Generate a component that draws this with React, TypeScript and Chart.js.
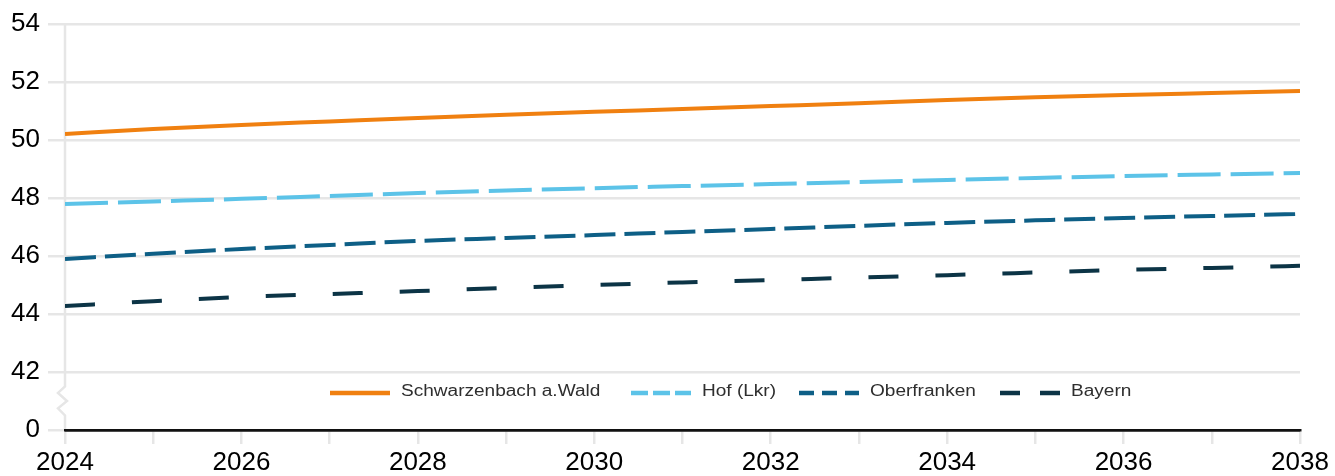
import React, { useEffect, useRef } from "react";
import { Chart, registerables } from "chart.js";

Chart.register(...registerables);

const years = [2024, 2025, 2026, 2027, 2028, 2029, 2030, 2031, 2032, 2033, 2034, 2035, 2036, 2037, 2038];
const seriesNames = ["Schwarzenbach a.Wald", "Hof (Lkr)", "Oberfranken", "Bayern"];
const schwarzenbach = [50.21, 50.38, 50.52, 50.64, 50.76, 50.87, 50.97, 51.07, 51.17, 51.27, 51.38, 51.47, 51.55, 51.62, 51.69];
const hof = [47.79, 47.88, 47.97, 48.07, 48.17, 48.26, 48.34, 48.41, 48.48, 48.55, 48.62, 48.69, 48.76, 48.81, 48.86];
const oberfranken = [45.9, 46.08, 46.24, 46.38, 46.52, 46.62, 46.72, 46.83, 46.93, 47.04, 47.14, 47.23, 47.31, 47.38, 47.45];
const bayern = [44.28, 44.44, 44.59, 44.69, 44.79, 44.9, 45.0, 45.09, 45.17, 45.26, 45.34, 45.43, 45.52, 45.59, 45.66];
// y axis is broken: the lowest tick (plotted at 40) is labelled "0"
const yTickValues = [40, 42, 44, 46, 48, 50, 52, 54];
const yTickLabels = ["0", "42", "44", "46", "48", "50", "52", "54"];

const FONT = "'Liberation Sans', Arial, Helvetica, sans-serif";
const colors = ["#f08010", "#5cc3e8", "#0e5f86", "#0c3446"];
const lineDashes: number[][] = [[], [43, 10], [31, 9], [30, 37]];
const legendDashes: number[][] = [[], [17, 5], [15, 8], [20, 20]];
const legendStarts = [330, 631, 799, 1000];

export default function App() {
  const ref = useRef<HTMLCanvasElement>(null);
  useEffect(() => {
    document.body.style.margin = "0";
    const canvas = ref.current!;
    const seriesData = [schwarzenbach, hof, oberfranken, bayern];

    const axisPlugin = {
      id: "brokenAxis",
      beforeDatasetsDraw(chart: any) {
        const c = chart.ctx;
        const y = chart.scales.y;
        const x0 = chart.chartArea.left;
        const top = y.getPixelForValue(54);
        const b1 = y.getPixelForValue(41.5);
        const b2 = y.getPixelForValue(40.5);
        const bottom = y.getPixelForValue(40);
        c.save();
        c.strokeStyle = "#e6e6e6";
        c.lineWidth = 2.5;
        c.lineJoin = "miter";
        c.beginPath();
        c.moveTo(x0, top);
        c.lineTo(x0, b1);
        const h = b2 - b1;
        c.lineTo(x0 - 7, b1 + h * 0.22);
        c.lineTo(x0 + 2, b1 + h * 0.5);
        c.lineTo(x0 - 7, b1 + h * 0.75);
        c.lineTo(x0, b2);
        c.lineTo(x0, bottom);
        c.stroke();
        c.restore();
      },
    };

    const legendPlugin = {
      id: "customLegend",
      afterDatasetsDraw(chart: any) {
        const c = chart.ctx;
        const yc = 392;
        c.save();
        c.font = `16px ${FONT}`;
        c.textBaseline = "middle";
        c.textAlign = "left";
        chart.data.datasets.forEach((ds: any, i: number) => {
          const x = legendStarts[i];
          c.beginPath();
          c.setLineDash(legendDashes[i]);
          c.strokeStyle = ds.borderColor;
          c.lineWidth = 4.5;
          c.lineCap = "butt";
          c.moveTo(x, yc + 1);
          c.lineTo(x + 60, yc + 1);
          c.stroke();
          c.setLineDash([]);
          c.fillStyle = "#2e2e2e";
          c.save();
          c.translate(x + 71, yc);
          c.scale(1.19, 1);
          c.fillText(ds.label, 0, 0);
          c.restore();
        });
        c.restore();
      },
    };

    const chart = new Chart(canvas, {
      type: "line",
      data: {
        datasets: seriesNames.map((name, i) => ({
          label: name,
          data: years.map((yr, j) => ({ x: yr, y: seriesData[i][j] })),
          borderColor: colors[i],
          backgroundColor: colors[i],
          borderWidth: 4,
          borderDash: lineDashes[i],
          borderCapStyle: "butt" as const,
          pointRadius: 0,
          cubicInterpolationMode: "monotone" as const,
          fill: false,
        })),
      },
      options: {
        animation: false,
        responsive: false,
        maintainAspectRatio: false,
        layout: { padding: { top: 24, right: 35, left: 0, bottom: 0 } },
        plugins: { legend: { display: false }, tooltip: { enabled: false } },
        scales: {
          x: {
            type: "linear",
            min: 2024,
            max: 2038,
            afterFit: (s: any) => {
              s.height = 46;
            },
            afterBuildTicks: (s: any) => {
              s.ticks = years.map((v) => ({ value: v }));
            },
            ticks: {
              autoSkip: false,
              maxRotation: 0,
              padding: 3,
              color: "#000",
              font: { family: FONT, size: 26 },
              callback: (v: any) => (Number(v) % 2 === 0 ? String(v) : ""),
            },
            grid: {
              display: true,
              drawOnChartArea: false,
              drawTicks: true,
              tickLength: 14,
              color: "#e6e6e6",
              tickColor: "#e6e6e6",
              lineWidth: 2.5,
            },
            border: { display: true, color: "#111111", width: 2.5, z: 1 },
          },
          y: {
            type: "linear",
            min: 40,
            max: 54,
            afterFit: (s: any) => {
              s.width = 65;
            },
            afterBuildTicks: (s: any) => {
              s.ticks = yTickValues.map((v) => ({ value: v }));
            },
            ticks: {
              padding: 8,
              color: "#000",
              font: { family: FONT, size: 26 },
              callback: (v: any) => {
                const idx = yTickValues.indexOf(Number(v));
                return idx >= 0 ? yTickLabels[idx] : "";
              },
            },
            grid: {
              drawTicks: true,
              tickLength: 17,
              color: (ctx: any) => (ctx.tick && ctx.tick.value === 40 ? "#111111" : "#e6e6e6"),
              tickColor: "#e6e6e6",
              lineWidth: 2.5,
            },
            border: { display: false },
          },
        },
      },
      plugins: [axisPlugin, legendPlugin],
    });
    return () => chart.destroy();
  }, []);

  return (
    <div style={{ width: 1335, height: 476 }}>
      <canvas ref={ref} width={1335} height={476} style={{ display: "block" }} />
    </div>
  );
}
